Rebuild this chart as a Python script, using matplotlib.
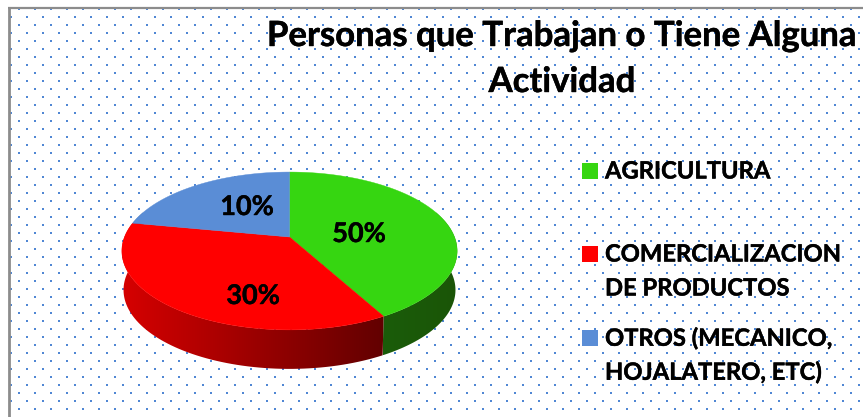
import numpy as np
import matplotlib
matplotlib.use('Agg')
import matplotlib.pyplot as plt
import matplotlib.patheffects as pe
from matplotlib.colors import LinearSegmentedColormap
from matplotlib.patches import Polygon, Rectangle

# Datos del grafico
titulo = ['Personas que Trabajan o Tiene Alguna', 'Actividad']
etiquetas = ['AGRICULTURA', 'COMERCIALIZACION\nDE PRODUCTOS', 'OTROS (MECANICO,\nHOJALATERO, ETC)']
porcentajes = [50, 30, 10]
# tamano de cada rebanada como se ve en el dibujo (no coincide con las etiquetas)
rebanadas = [42, 36, 22]

colores = ['#36d611', '#ff0000', '#5a8dd6']
pared_izq = ['#1b5c0a', '#d60000', '#3a5f94']
pared_der = ['#1a5507', '#620000', '#3a5f94']
pos_pct = [(359, 234), (253, 296), (247, 207)]
pos_leyenda = [(590, 171), (590, 254), (590, 338)]

plt.rcParams['font.family'] = ['Lato', 'DejaVu Sans']

fig = plt.figure(figsize=(8.63, 4.17), dpi=100)
ax = fig.add_axes([0, 0, 1, 1])
ax.axis('off')

grueso = [pe.withStroke(linewidth=0.3, foreground='black')]


def proyectar(theta, dy=0.0, escala=1.0):
    """Pasa un angulo (grados, desde arriba y en sentido horario) a pixeles, con perspectiva"""
    t = np.radians(theta)
    u, v = np.sin(t), np.cos(t)
    d = 1 + 0.177 * v
    x = 289.5 + 165 * escala * u / d
    y = (237 - 34.5 * v) / d + dy
    return x, y


# Fondo punteado
for i, y in enumerate(np.arange(9, 417, 8)):
    x0 = 19 if i % 2 == 0 else 11
    xs = np.arange(x0, 863, 16)
    ax.scatter(xs, np.full(len(xs), y), s=4.2, marker='s', color='#5087d4', linewidths=0, zorder=1)

# Borde
ax.plot([9, 9], [417, 7], color='#8c8c8c', lw=2.0, solid_capstyle='butt', zorder=2)
ax.plot([8, 863], [7.8, 7.8], color='#8c8c8c', lw=1.6, solid_capstyle='butt', zorder=2)

# Pared lateral de la torta
inicio = 0
for n, valor in enumerate(rebanadas):
    fin = inicio + valor / sum(rebanadas) * 360
    a = max(inicio, 70)
    b = min(fin, 290)
    if a < b:
        th = np.linspace(a, b, 80)
        xt, yt = proyectar(th)
        xb, yb = proyectar(th, dy=39, escala=0.99)
        pts = np.vstack([np.column_stack([xt, yt]), np.column_stack([xb, yb])[::-1]])
        forma = Polygon(pts, closed=True, facecolor='none', edgecolor='none', zorder=3)
        ax.add_patch(forma)
        cmap = LinearSegmentedColormap.from_list('p', [pared_izq[n], pared_der[n]])
        ext = (pts[:, 0].min(), pts[:, 0].max(), pts[:, 1].max(), pts[:, 1].min())
        im = ax.imshow(np.linspace(0, 1, 256).reshape(1, -1), cmap=cmap, extent=ext,
                       aspect='auto', zorder=3, interpolation='bilinear')
        im.set_clip_path(forma)
    inicio = fin

# Cara superior de la torta
inicio = 0
for n, valor in enumerate(rebanadas):
    fin = inicio + valor / sum(rebanadas) * 360
    th = np.linspace(inicio, fin, 150)
    xt, yt = proyectar(th)
    pts = np.vstack([[289.5, 237], np.column_stack([xt, yt])])
    ax.add_patch(Polygon(pts, closed=True, facecolor=colores[n], edgecolor=colores[n], lw=0.3, zorder=4))
    inicio = fin

# Porcentajes
for p, pos in zip(porcentajes, pos_pct):
    ax.text(pos[0], pos[1], f'{p}%', fontsize=19.5, fontweight='bold', color='black',
            ha='center', va='center', zorder=5, path_effects=grueso)

# Titulo
for k, linea in enumerate(titulo):
    ax.text(562, 36 + k * 46, linea, fontsize=25, fontweight='bold', color='black', ha='center', va='center',
            zorder=5, path_effects=grueso)

# Leyenda
for n, pos in enumerate(pos_leyenda):
    ax.add_patch(Rectangle((pos[0] - 8, pos[1] - 8), 16, 16, facecolor=colores[n], edgecolor='none', zorder=5))
    for k, linea in enumerate(etiquetas[n].split('\n')):
        ax.text(605, pos[1] + k * 34, linea, fontsize=17.1, fontweight='bold', color='black',
                ha='left', va='center', zorder=5, path_effects=grueso)

ax.set_xlim(0, 863)
ax.set_ylim(417, 0)

plt.savefig('out.png', dpi=100, facecolor='white')
